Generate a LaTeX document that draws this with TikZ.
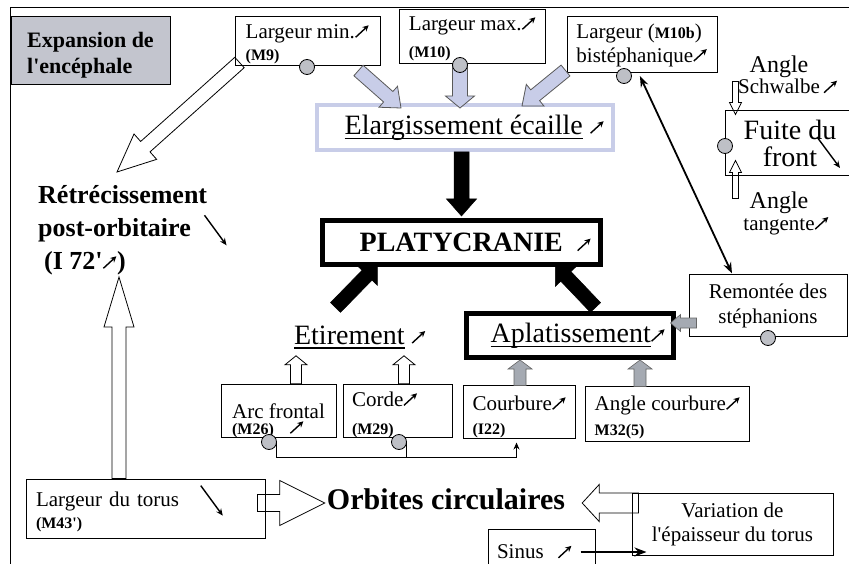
\documentclass[tikz,border=0pt]{standalone}
\usepackage{fontspec}
\setmainfont{Liberation Serif}
\usetikzlibrary{calc}
\usetikzlibrary{arrows.meta}

\definecolor{grisbleu}{RGB}{195,197,206}
\definecolor{bouton}{RGB}{190,192,198}
\definecolor{lavande}{RGB}{200,205,232}
\definecolor{grismarbre}{RGB}{165,170,178}

\pgfdeclarelayer{fond}
\pgfsetlayers{fond,main}

\newcommand{\hausse}{\tikz[x=1pt,y=1pt,baseline=0pt]\draw[black,line width=1.4pt,-{Stealth[length=6pt,width=6pt]}] (0,1) -- (13,13);}
\newcommand{\baisse}{\tikz[x=1pt,y=1pt,baseline=9pt]\draw[black,line width=1.4pt,-{Stealth[length=7pt,width=6pt]}] (0,30) -- (22,0);}
\newcommand{\mesure}[1]{{\bfseries\fontsize{16}{16}\selectfont #1}}
\newsavebox{\boitesoul}
\newcommand{\souligne}[1]{\sbox{\boitesoul}{#1}\rlap{\rule[-4.5pt]{\wd\boitesoul}{1.2pt}}\usebox{\boitesoul}}
% fleche epaisse : style, depart, pointe, demi-corps, demi-tete, longueur tete
\newcommand{\flechebloc}[6]{%
  \coordinate (talon) at ($(#3)!#6!(#2)$);
  \filldraw[#1] ($(#2)!#4!90:(#3)$) -- ($(talon)!#4!90:(#3)$) -- ($(talon)!#5!90:(#3)$) -- (#3)
    -- ($(talon)!#5!-90:(#3)$) -- ($(talon)!#4!-90:(#3)$) -- ($(#2)!#4!-90:(#3)$) -- cycle;}

\begin{document}
\begin{tikzpicture}[x=1pt,y=-1pt,
  boite/.style={draw,line width=1pt,inner ysep=0pt,inner xsep=9pt,align=left,font=\fontsize{21}{22}\selectfont},
  gros/.style={font=\fontsize{28}{27}\selectfont},
  bouton/.style={circle,draw,line width=0.8pt,fill=bouton,minimum size=15pt,inner sep=0pt},
  blanche/.style={fill=white,draw=black,line width=0.8pt},
  pleine/.style={fill=black,draw=black,line width=0.5pt},
  bleutee/.style={fill=lavande,draw=black!65,line width=0.8pt},
  marbre/.style={fill=grismarbre,draw=black!60,line width=0.6pt}]

\useasboundingbox (0,0) rectangle (849,564);
\draw[line width=1pt] (849,8) -- (10,8) -- (10,564);

\node[boite,fill=grisbleu,minimum width=159pt,minimum height=68pt,font=\bfseries\fontsize{22}{26}\selectfont] (expan) at (90.5,51) {\rule{0pt}{23pt}Expansion de\\l\textquotesingle encéphale};

\node[boite,minimum width=145pt,minimum height=49pt] (lmin) at (307.5,41.5) {\rule{0pt}{19pt}Largeur min.\hausse\\\mesure{(M9)}};
\node[boite,minimum width=145pt,minimum height=54pt] (lmax) at (472.5,37) {\rule{0pt}{17pt}Largeur max.\hausse\\[5pt]\mesure{(M10)}};
\node[boite,minimum width=150pt,minimum height=56pt] (lbis) at (642,45) {Largeur (\mesure{M10b})\\[2pt]bistéphanique\hausse};

\node[draw=lavande,line width=4pt,minimum width=296pt,minimum height=45pt,gros,inner sep=0pt] (elarg) at (465,127.5) {\hspace*{19pt}\souligne{Elargissement écaille}\ \hausse};
\node[draw,line width=5pt,minimum width=278pt,minimum height=44pt,font=\bfseries\fontsize{28}{28}\selectfont,inner sep=0pt] (platy) at (461.5,242.5) {\hspace*{28pt}PLATYCRANIE\ \ \hausse};
\node[gros] (etir) at (360,337) {\souligne{Etirement}\ \hausse};
\node[draw,line width=5pt,minimum width=207pt,minimum height=44pt,gros,inner sep=0pt] (aplat) at (570,335.5) {\hspace*{16pt}\souligne{Aplatissement}\hausse};
\node[boite,align=center,minimum width=158pt,minimum height=61pt,font=\fontsize{21}{25}\selectfont] (remont) at (768,305.5) {Remontée des\\stéphanions};

\node[align=center,font=\fontsize{21}{21}\selectfont] (schw) at (779,75) {{\fontsize{24}{24}\selectfont Angle}\\Schwalbe\rlap{\,\hausse}};
\node[draw,line width=1pt,minimum width=130pt,minimum height=65pt,align=center,font=\fontsize{28}{27}\selectfont] (fuite) at (790,143.5) {Fuite du\\front};
\node[align=center,font=\fontsize{21}{22}\selectfont] (tang) at (779,213) {{\fontsize{24}{24}\selectfont Angle}\\tangente\rlap{\hausse}};

\node[anchor=west,align=left,font=\bfseries\fontsize{26}{33}\selectfont,inner sep=0pt] (retre) at (38,230) {Rétrécissement\\post-orbitaire\ \ \baisse\\\hspace*{6pt}(I 72\textquotesingle\hausse)};

\node[boite,minimum width=115pt,minimum height=52pt] (arc) at (278.5,411) {\rule{0pt}{34pt}Arc frontal\\[-6pt]\mesure{(M26)}\ \ \ \hausse};
\node[boite,minimum height=52pt,text width=91pt] (corde) at (397.5,411) {\rule{0pt}{22pt}Corde\hausse\\[6pt]\mesure{(M29)}};
\node[boite,minimum width=107pt,minimum height=53pt] (courb) at (519.5,411.5) {\rule{0pt}{25pt}Courbure\hausse\\[2pt]\mesure{(I22)}};
\node[boite,minimum width=159pt,minimum height=55pt] (angc) at (667.5,413.5) {\rule{0pt}{22pt}Angle courbure\hausse\\[3pt]\mesure{M32(5)}};

\node[boite,minimum height=59pt,text width=219pt,inner xsep=10pt] (ltorus) at (145.5,508.5) {Largeur du torus\quad\baisse\\\mesure{(M43\textquotesingle)}};
\node[font=\bfseries\fontsize{30}{30}\selectfont,inner sep=2pt] (orbites) at (446,499) {Orbites circulaires};
\node[boite,align=center,minimum width=201pt,minimum height=62pt,font=\fontsize{21}{24}\selectfont] (variation) at (732.5,524) {Variation de\\l\textquotesingle épaisseur du torus};
\node[boite,minimum height=46pt,text width=89pt] (sinus) at (541.5,552) {Sinus\ \ \hausse};

% fleches creuses
\coordinate (d1) at ($(lmin.south west)+(5,-4)$);
\coordinate (f1) at (117,172);
\coordinate (f2) at (119,277);
\coordinate (d2) at (ltorus.north -| f2);
\coordinate (f3) at ($(orbites.west)+(0,4)$);
\coordinate (d3) at ($(ltorus.east |- f3)+(-8,0)$);
\coordinate (f4) at ($(orbites.east)+(15,4)$);
\coordinate (d4) at ($(variation.west |- f4)+(7,0)$);
\coordinate (d5) at ($(arc.north)+(17.5,0)$);
\coordinate (f5) at ($(d5)+(0,-28)$);
\coordinate (d6) at ($(corde.north)+(6.5,0)$);
\coordinate (f6) at ($(d6)+(0,-28)$);
\coordinate (f7) at ($(fuite.north west)+(11,4)$);
\coordinate (d7) at ($(f7)+(0,-33)$);
\coordinate (f8) at ($(fuite.south west)+(11,-16)$);
\coordinate (d8) at ($(f8)+(0,38)$);
\begin{pgfonlayer}{fond}
\flechebloc{blanche}{d1}{f1}{7pt}{17pt}{38pt}
\flechebloc{blanche}{d2}{f2}{7pt}{15pt}{50pt}
\flechebloc{blanche}{d3}{f3}{8.5pt}{22.5pt}{45pt}
\flechebloc{blanche}{d4}{f4}{10pt}{18.5pt}{17pt}
\flechebloc{blanche}{d5}{f5}{5.5pt}{11pt}{9pt}
\flechebloc{blanche}{d6}{f6}{5.5pt}{11pt}{9pt}
\flechebloc{blanche}{d7}{f7}{3pt}{6pt}{12pt}
\flechebloc{blanche}{d8}{f8}{3pt}{6pt}{12pt}
\end{pgfonlayer}

% vers l'elargissement
\coordinate (pmax) at (460,65);
\coordinate (d9) at ($(lmin.south east)+(-22,4)$);
\coordinate (f9) at ($(elarg.north west)+(86,5)$);
\coordinate (f10) at ($(pmax |- elarg.north)+(0,5)$);
\coordinate (d11) at ($(lbis.south west)+(-1,-3)$);
\coordinate (f11) at ($(elarg.north)+(57,3)$);
\flechebloc{bleutee}{d9}{f9}{7pt}{14pt}{17pt}
\flechebloc{bleutee}{pmax}{f10}{7.5pt}{14.5pt}{12pt}
\flechebloc{bleutee}{d11}{f11}{7pt}{14pt}{17pt}

% vers la platycranie
\coordinate (d12) at (platy.north |- elarg.south);
\coordinate (f12) at ($(platy.north)+(0,-2)$);
\coordinate (d13) at ($(platy.south west)+(15.5,40.5)$);
\coordinate (f13) at ($(platy.south west)+(57.5,-2.5)$);
\coordinate (d14) at ($(platy.south east)+(-7.5,40.5)$);
\coordinate (f14) at ($(platy.south east)+(-47.5,-1.5)$);
\flechebloc{pleine}{d12}{f12}{7.5pt}{15pt}{17pt}
\flechebloc{pleine}{d13}{f13}{7pt}{14.5pt}{15pt}
\flechebloc{pleine}{d14}{f14}{7pt}{14.5pt}{15pt}

% vers l'aplatissement
\coordinate (d15) at ($(courb.north)+(0.5,1)$);
\coordinate (f15) at (d15 |- aplat.south);
\coordinate (d16) at ($(angc.north)+(-27.5,1)$);
\coordinate (f16) at (d16 |- aplat.south);
\coordinate (d17) at ($(remont.west)+(8,17.5)$);
\coordinate (f17) at ($(aplat.east |- d17)+(-5.5,0)$);
\flechebloc{marbre}{d15}{f15}{6pt}{12pt}{9pt}
\flechebloc{marbre}{d16}{f16}{6pt}{12pt}{9pt}
\flechebloc{marbre}{d17}{f17}{5pt}{8.5pt}{10pt}

\node[bouton] (kmin) at (307,67) {};
\node[bouton] (kmax) at (pmax) {};
\node[bouton] (kbis) at (624,76) {};
\node[bouton] (kfuite) at (725,146) {};
\node[bouton] (kremont) at (768,338) {};
\node[bouton] (karc) at (269,442) {};
\node[bouton] (kcorde) at (399,442) {};

\draw[line width=1.8pt,{Stealth[length=11pt,width=8pt]}-{Stealth[length=11pt,width=8pt]}] ($(kbis.east)+(8,0)$) -- ($(remont.north)+(-36,-1)$);
\draw[line width=1.4pt,-{Stealth[length=7pt,width=6pt]}] ($(fuite.center)+(27,-6.5)$) -- ($(fuite.center)+(50,24.5)$);
\draw[line width=1pt,-{Stealth[length=7pt,width=6pt]}] (karc.east) |- ($(courb.south)+(-3,19)$) -- ($(courb.south)+(-3,4)$);
\draw[line width=1pt] (kcorde.east) -- ($(kcorde.east)+(0,15)$);
\draw[line width=2.2pt,-{Stealth[length=12pt,width=9pt]}] ($(sinus.east)+(-15,0)$) -- ($(variation.west |- sinus.east)+(15,0)$);
\end{tikzpicture}
\end{document}
